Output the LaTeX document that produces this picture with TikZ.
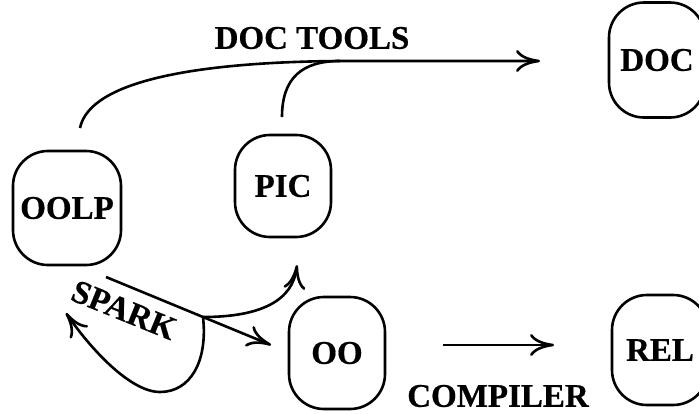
\documentclass[tikz,border=0pt]{standalone}
\usepackage{fontspec}
\setmainfont[BoldFeatures={FakeBold=0.5}]{Liberation Serif}
\usetikzlibrary{arrows.meta}
\begin{document}
\begin{tikzpicture}[x=1pt,y=-1pt,
  line width=2.6pt,
  font=\fontsize{33}{33}\selectfont\bfseries,
  tool/.style={draw, rectangle, rounded corners=35pt, inner sep=0pt,
    minimum width=96pt, minimum height=110pt},
  flow/.style={-{Computer Modern Rightarrow[length=24pt,width=22pt]}},
  lbl/.style={inner sep=0pt}]
\useasboundingbox (0,0) rectangle (699,413);

% boxes
\node[tool, minimum width=108pt, minimum height=114pt] (oolp) at (67,208) {OOLP};
\node[tool, minimum height=102pt] (pic) at (283,186) {PIC};
\node[tool, minimum height=112pt] (oo) at (337,353) {OO};
\node[tool, minimum height=115pt] (doc) at (657,60) {DOC};
\node[tool, minimum height=110pt] (rel) at (660,350) {REL};

% free ends of connectors
\coordinate (oolptop) at (80,128);
\coordinate (pictop) at (282,117);
\coordinate (merge) at (340,61);
\coordinate (doctip) at (540,61);
\coordinate (sparkstart) at (106,277);
\coordinate (split) at (203,317);
\coordinate (ootip) at (271,345);
\coordinate (pictip) at (297,265);
\coordinate (looptip) at (66,313);
\coordinate (compstart) at (443,345);
\coordinate (comptip) at (554,345);

% documentation tools
\draw[flow] (oolptop) .. controls (90,80) and (200,62) .. (merge) -- (doctip);
\draw (pictop) .. controls (282,78) and (302,61) .. (merge);
\node[lbl] (doctools) at (312,38) {DOC TOOLS};

% spark
\draw[flow] (sparkstart) -- (split) -- (ootip);
\draw[flow] (split) .. controls (262,317) and (293,300) .. (pictip);
\draw[flow] (split) .. controls (208,362) and (190,392) .. (160,392)
  .. controls (130,392) and (90,348) .. (looptip);
\node[lbl, rotate=-22] (spark) at (124,310) {SPARK};

% compiler
\draw[flow] (compstart) -- (comptip);
\node[lbl] (compiler) at (498,396) {COMPILER};
\end{tikzpicture}
\end{document}
